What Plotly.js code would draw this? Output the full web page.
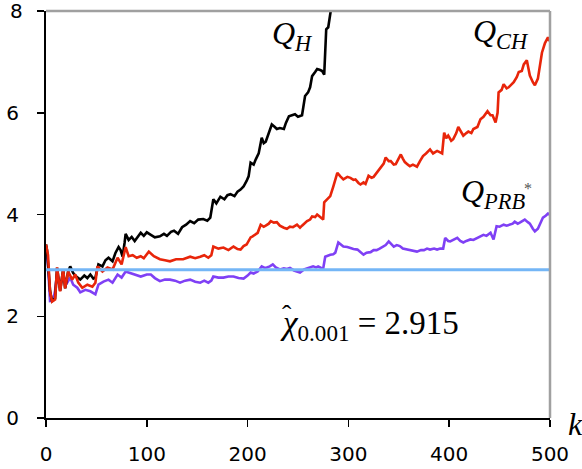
<!DOCTYPE html>
<html>
<head>
<meta charset="utf-8">
<script src="https://cdn.plot.ly/plotly-3.0.1.min.js"></script>
<style>html,body{margin:0;padding:0;background:#fff;}#chart{width:582px;height:469px;}</style>
</head>
<body>
<div id="chart"></div>
<script>
// Q_H (black)
const kH = [0,1,4,6,9,11,14,17,19,22,24,27,30,34,38,41,44,47,49,52,56,59,62,66,69,72,74,76,78,79,82,85,88,91,94,97,100,104,108,113,117,120,124,127,131,135,139,143,147,151,156,160,163,166,169,173,177,180,183,187,190,193,196,199,201,203,206,208,211,214,216,218,221,224,227,229,232,236,238,241,244,247,250,254,257,260,262,264,267,269,272,274,276,277,278,280,282,284];
const qH = [3.41,3.3,2.5,2.3,2.35,2.95,2.5,2.92,2.55,2.88,2.98,2.85,2.78,2.72,2.8,2.75,2.82,2.74,2.76,3.02,2.98,3.1,3.15,3.08,3.25,3.36,3.3,3.17,3.45,3.62,3.5,3.56,3.48,3.55,3.64,3.58,3.65,3.6,3.55,3.57,3.62,3.58,3.66,3.68,3.62,3.75,3.8,3.87,3.83,3.9,3.91,3.88,3.94,4.3,4.22,4.35,4.3,4.38,4.4,4.36,4.45,4.49,4.55,4.66,4.75,5.02,4.98,5.08,5.2,5.51,5.4,5.43,5.6,5.77,5.72,5.68,5.7,5.68,5.8,5.93,5.95,5.97,5.92,5.95,6.33,6.4,6.5,6.72,6.8,6.86,6.84,6.82,6.75,7.4,7.64,7.68,7.9,8.2];

// Q_CH (red)
const kCH = [0,2,4,6,9,11,14,17,19,22,26,29,32,36,41,46,49,51,56,61,66,71,75,79,82,86,90,94,97,102,107,113,118,123,129,136,143,148,153,157,161,164,166,171,176,181,186,190,193,196,199,203,205,210,213,216,218,221,223,226,229,232,236,239,242,245,249,252,254,257,259,262,264,267,269,272,275,276,279,282,285,289,292,295,299,302,305,307,310,312,315,317,320,323,325,328,332,335,337,340,342,345,347,350,352,354,356,359,361,364,368,371,374,377,381,384,388,391,393,395,397,399,402,404,407,409,412,414,417,419,422,424,428,431,434,438,441,443,446,448,449,452,454,457,459,462,464,467,469,472,474,477,479,480,483,485,488,490,492,495,498,500];
const qCH = [3.41,3.2,2.49,2.29,2.33,2.96,2.49,2.92,2.55,2.88,2.72,2.82,2.66,2.56,2.62,2.58,2.66,2.98,2.88,2.96,2.92,3.15,3.02,3.36,3.18,3.2,3.15,3.18,3.14,3.27,3.18,3.12,3.1,3.08,3.12,3.12,3.17,3.14,3.17,3.2,3.15,3.2,3.37,3.33,3.35,3.3,3.37,3.32,3.31,3.38,3.41,3.55,3.57,3.64,3.8,3.76,3.78,3.82,3.87,3.84,3.85,3.78,3.74,3.72,3.76,3.75,3.8,3.74,3.78,3.83,3.87,3.9,3.96,3.95,4.0,3.95,3.9,4.24,4.3,4.36,4.55,4.82,4.75,4.69,4.74,4.72,4.68,4.69,4.62,4.59,4.63,4.6,4.76,4.72,4.74,4.82,4.93,5.0,5.12,5.05,5.05,4.98,4.99,5.1,5.18,5.1,5.03,4.98,4.95,4.98,4.94,5.05,5.15,5.2,5.28,5.2,5.25,5.22,5.2,5.61,5.5,5.55,5.45,5.48,5.6,5.72,5.6,5.55,5.6,5.63,5.6,5.68,5.72,5.87,5.92,6.03,5.95,5.95,5.81,6.0,6.4,6.45,6.56,6.48,6.5,6.55,6.6,6.7,6.8,6.82,6.95,7.03,6.85,6.73,6.6,6.54,6.67,6.95,7.18,7.37,7.48,7.4];

// Q_PRB* (purple)
const kPRB = [0,2,4,7,9,11,14,17,21,24,27,31,34,39,44,47,49,52,57,62,66,71,75,79,82,87,94,100,104,108,113,118,123,128,133,138,143,148,153,157,161,164,166,171,176,181,186,191,196,200,203,206,210,214,217,219,222,225,228,232,236,239,242,246,249,252,256,259,262,265,268,270,273,275,277,280,282,285,287,290,293,295,299,302,305,309,312,315,318,322,325,328,331,335,337,340,343,345,348,351,354,358,362,365,368,372,375,378,381,385,388,391,394,396,399,401,404,408,411,414,417,421,424,428,431,434,437,441,444,447,450,454,457,460,463,465,468,470,473,475,478,480,483,485,488,490,493,496,498,500];
const qPRB = [3.38,3.0,2.3,2.31,2.5,2.82,2.62,2.76,2.66,2.76,2.62,2.56,2.47,2.52,2.49,2.45,2.43,2.62,2.68,2.72,2.66,2.82,2.76,2.88,2.86,2.82,2.78,2.82,2.82,2.75,2.69,2.72,2.72,2.7,2.66,2.7,2.72,2.68,2.66,2.7,2.66,2.7,2.78,2.76,2.76,2.78,2.78,2.75,2.74,2.8,2.86,2.84,2.88,2.98,2.95,2.96,2.98,3.02,2.96,2.92,2.94,2.93,2.95,2.9,2.88,2.86,2.92,2.94,2.97,2.98,2.96,2.98,2.95,2.94,3.17,3.2,3.21,3.22,3.25,3.45,3.4,3.37,3.36,3.34,3.32,3.31,3.25,3.21,3.25,3.26,3.3,3.3,3.33,3.37,3.4,3.47,3.4,3.37,3.4,3.38,3.33,3.31,3.29,3.28,3.27,3.3,3.3,3.33,3.31,3.33,3.31,3.33,3.33,3.54,3.48,3.47,3.5,3.54,3.48,3.45,3.48,3.51,3.5,3.54,3.56,3.6,3.58,3.64,3.51,3.77,3.76,3.8,3.78,3.8,3.82,3.86,3.82,3.84,3.88,3.9,3.85,3.82,3.72,3.67,3.72,3.8,3.94,3.98,4.02,4.0];

// critical value line
const chiK = [0,500];
const chiValue = 2.915;

const xTicks = [0,100,200,300,400,500];
const yTicks = [0,2,4,6];
const yTopTick = 8;

const traces = [
  {x:kPRB, y:qPRB, mode:'lines', line:{color:'#7f40f5', width:2.6}, hoverinfo:'skip'},
  {x:kH, y:qH, mode:'lines', line:{color:'#000000', width:2.6}, hoverinfo:'skip'},
  {x:kCH, y:qCH, mode:'lines', line:{color:'#e8250a', width:2.6}, hoverinfo:'skip'},
  {x:chiK, y:chiK.map(()=>chiValue), mode:'lines', line:{color:'#74b6f6', width:3}, hoverinfo:'skip'}
];

const serif = 'Liberation Serif';
const px = (v)=>(v-46)/504;
const py = (v)=>(418-v)/407;
function ann(xp, yp, text, size, color, fam){
  return {xref:'paper', yref:'paper', x:px(xp), y:py(yp), xanchor:'center', yanchor:'middle', text:text, showarrow:false,
    font:{family:fam||serif, size:size, color:color||'#000'}};
}
const layout = {
  width:582, height:469,
  margin:{l:46, r:32, t:11, b:51},
  paper_bgcolor:'#fff', plot_bgcolor:'#fff',
  showlegend:false,
  font:{family:'DejaVu Sans, sans-serif', size:20, color:'#000'},
  xaxis:{range:[0,500], tickvals:xTicks, ticktext:xTicks.map(String), ticks:'outside', ticklen:7, tickwidth:1.5, tickcolor:'#000',
    showline:true, linecolor:'#000', linewidth:2, showgrid:false, zeroline:false, fixedrange:true, ticklabelstandoff:10},
  yaxis:{range:[0,8], tickvals:yTicks.concat([yTopTick]), ticktext:yTicks.map(String).concat(['']), ticks:'outside', ticklen:7, tickwidth:1.5, tickcolor:'#000',
    showline:true, linecolor:'#000', linewidth:2, showgrid:false, zeroline:false, fixedrange:true, ticklabelstandoff:14},
  shapes:[
    {type:'line', xref:'paper', yref:'paper', x0:0, x1:1, y0:1, y1:1, line:{color:'#a0a0a0', width:2.5}},
    {type:'line', xref:'paper', yref:'paper', x0:1, x1:1, y0:0, y1:1, line:{color:'#a0a0a0', width:2.5}}
  ],
  annotations:[
    {xref:'paper', yref:'y', x:px(25), y:yTopTick, xanchor:'right', yanchor:'middle', text:String(yTopTick), showarrow:false,
      font:{family:'DejaVu Sans, sans-serif', size:20, color:'#000'}},
    ann(292, 35, '<i>Q</i><sub><i>H</i></sub>', 32),
    ann(501, 34, '<i>Q</i><sub><i>CH</i></sub>', 32),
    ann(493, 193, '<i>Q</i><sub><i>PRB</i></sub>', 32),
    ann(528, 188, '*', 16, '#555'),
    ann(369, 325, '<i>χ</i><sub>0.001</sub> = 2.915', 33),
    ann(287, 314, 'ˆ', 28),
    ann(575, 424, '<i>k</i>', 32)
  ]
};

Plotly.newPlot('chart', traces, layout, {displayModeBar:false, staticPlot:true});
</script>
</body>
</html>
